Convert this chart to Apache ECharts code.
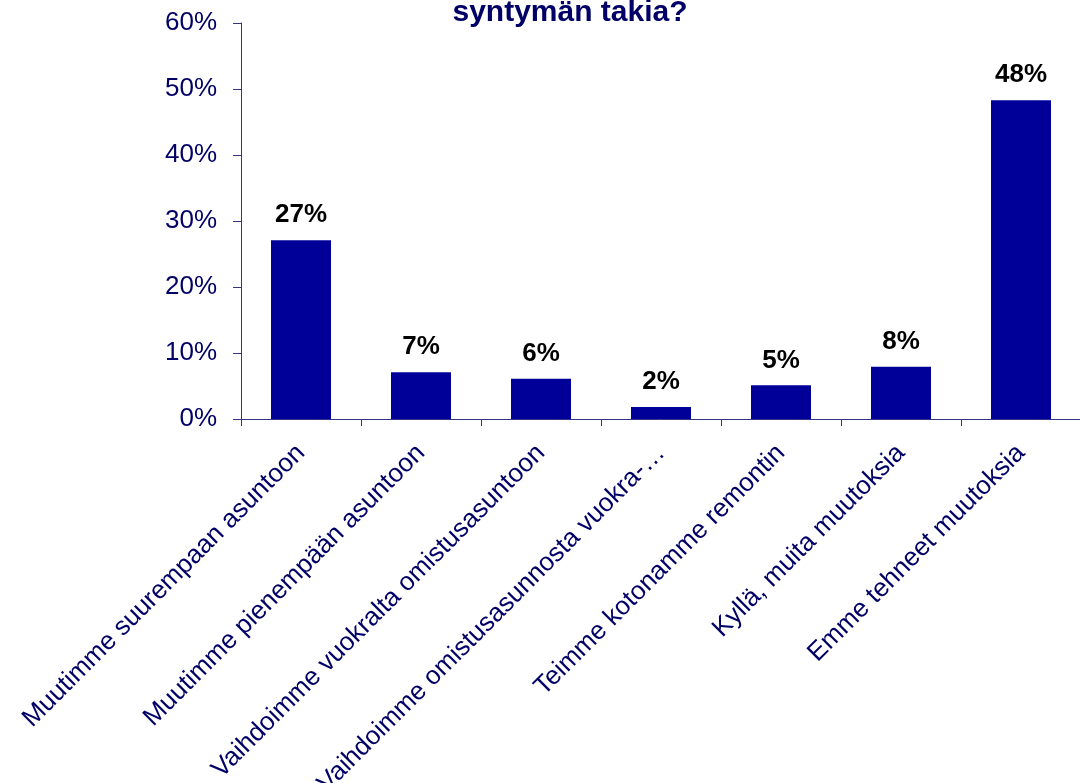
<!DOCTYPE html>
<html>
<head>
<meta charset="utf-8">
<script src="https://cdn.jsdelivr.net/npm/echarts@6/dist/echarts.min.js"></script>
<style>
  html, body { margin: 0; padding: 0; background: #fff; }
  #chart { width: 1080px; height: 783px; }
</style>
</head>
<body>
<div id="chart"></div>
<script>
// vastausvaihtoehdot
var categories = [
    'Muutimme suurempaan asuntoon',
    'Muutimme pienempään asuntoon',
    'Vaihdoimme vuokralta omistusasuntoon',
    'Vaihdoimme omistusasunnosta vuokra-…',
    'Teimme kotonamme remontin',
    'Kyllä, muita muutoksia',
    'Emme tehneet muutoksia'
];
// osuudet prosentteina
var values = [27.1, 7.1, 6.1, 1.8, 5.1, 7.9, 48.3];
var yTicks = [0, 10, 20, 30, 40, 50, 60];

var navy = '#000066';
var axisColor = '#333388';
var font = 'Liberation Sans, Arial, sans-serif';
var myChart = echarts.init(document.getElementById('chart'));

var option = {
    animation: false,
    title: {
        text: 'syntymän takia?',
        left: 565,
        textAlign: 'center',
        top: -7,
        textStyle: {
            fontFamily: font,
            fontSize: 30,
            fontWeight: 'bold',
            color: navy
        }
    },
    grid: {
        left: 241,
        right: -1,
        top: 23,
        bottom: 364,
        containLabel: false,
        outerBoundsMode: 'none'
    },
    xAxis: {
        type: 'category',
        data: categories,
        axisLine: { lineStyle: { color: axisColor, width: 1 } },
        axisTick: { show: true, length: 7, lineStyle: { color: axisColor } },
        axisLabel: {
            rotate: 45,
            interval: 0,
            margin: 30,
            color: navy,
            fontFamily: font,
            fontSize: 26
        }
    },
    yAxis: {
        type: 'value',
        min: yTicks[0],
        max: yTicks[yTicks.length - 1],
        interval: 10,
        splitLine: { show: false },
        axisLine: { show: true, lineStyle: { color: axisColor, width: 1 } },
        axisTick: { show: true, length: 8, lineStyle: { color: axisColor } },
        axisLabel: {
            margin: 24,
            color: navy,
            fontFamily: font,
            fontSize: 26,
            formatter: function (v) { return v + '%'; }
        }
    },
    series: [
        {
            type: 'bar',
            data: values,
            barWidth: 60,
            itemStyle: { color: '#000099' },
            label: {
                show: true,
                position: 'top',
                distance: 12,
                color: '#000',
                fontFamily: font,
                fontSize: 26,
                fontWeight: 'bold',
                formatter: function (p) { return Math.round(p.value) + '%'; }
            }
        }
    ]
};
myChart.setOption(option);
</script>
</body>
</html>
